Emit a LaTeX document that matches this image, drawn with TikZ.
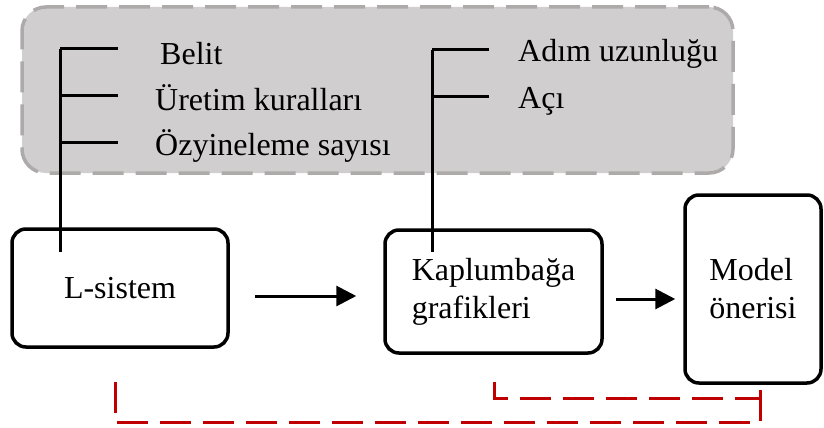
\documentclass[tikz,border=0pt]{standalone}
\usepackage{fontspec}
\setmainfont{Liberation Serif}
\usetikzlibrary{arrows.meta,positioning}
\definecolor{panelgray}{HTML}{D0CECE}
\definecolor{paneledge}{HTML}{AEAAAA}
\definecolor{loopred}{HTML}{C00000}

\begin{document}
\begin{tikzpicture}[x=1pt,y=-1pt,
  font=\fontsize{32}{38}\selectfont,
  panel/.style={draw=paneledge,fill=panelgray,line width=3.5pt,rounded corners=24pt,
    dash pattern=on 31pt off 12pt,minimum width=711pt,minimum height=166pt},
  stage/.style={draw=black,fill=white,line width=3.5pt,rounded corners=14pt,
    align=left,inner sep=0pt},
  param/.style={anchor=base west,inner sep=0pt},
  tick/.style={line width=3pt,draw=black},
  line/.style={-{Triangle[length=20pt,width=20pt]},line width=3pt,draw=black},
  feedback/.style={draw=loopred,line width=3pt,dash pattern=on 31pt off 12pt}]
\useasboundingbox (0,0) rectangle (824,428);
% parameter panel
\node[panel] (params) at (377.5,90) {};
\node[param] (belit) at (160,65) {Belit};
\node[param] (rules) at (155,110) {Üretim kuralları};
\node[param] (depth) at (155,155) {Özyineleme sayısı};
\node[param] (steplen) at (518,62) {Adım uzunluğu};
\node[param] (angle) at (518,108) {Açı};
% stages
\node[stage,minimum width=216pt,minimum height=118pt] (lsys) at (120,288) {L-sistem};
\node[stage,minimum width=217pt,minimum height=123pt] (turtle) at (493.5,291.5) {Kaplumbağa\\grafikleri};
\node[stage,minimum width=136pt,minimum height=188pt] (model) at (753,289) {Model\\önerisi};
% brackets
\coordinate (lstem) at (60,252);
\coordinate (tstem) at (432,252);
\draw[tick] (60,49) -- (lstem);
\foreach \y in {49,95,142} \draw[tick] (60,\y) -- ++(58,0);
\draw[tick] (432,50) -- (tstem);
\foreach \y in {50,96} \draw[tick] (432,\y) -- ++(57,0);
% flow
\draw[line] ([xshift=25pt,yshift=-8pt]lsys.east) -- ([xshift=-27pt,yshift=-4.5pt]turtle.west);
\draw[line] ([xshift=12pt,yshift=-7.5pt]turtle.east) -- ([xshift=-8pt,yshift=-10pt]model.west);
% feedback
\coordinate (fbA) at (115,382);
\coordinate (fbB) at (494,382);
\draw[feedback] (fbA) |- ([xshift=7pt,yshift=-38pt]model.south) -- ([xshift=7pt]model.south);
\draw[feedback] (fbB) |- ([xshift=7pt,yshift=-14pt]model.south);
\end{tikzpicture}
\end{document}
